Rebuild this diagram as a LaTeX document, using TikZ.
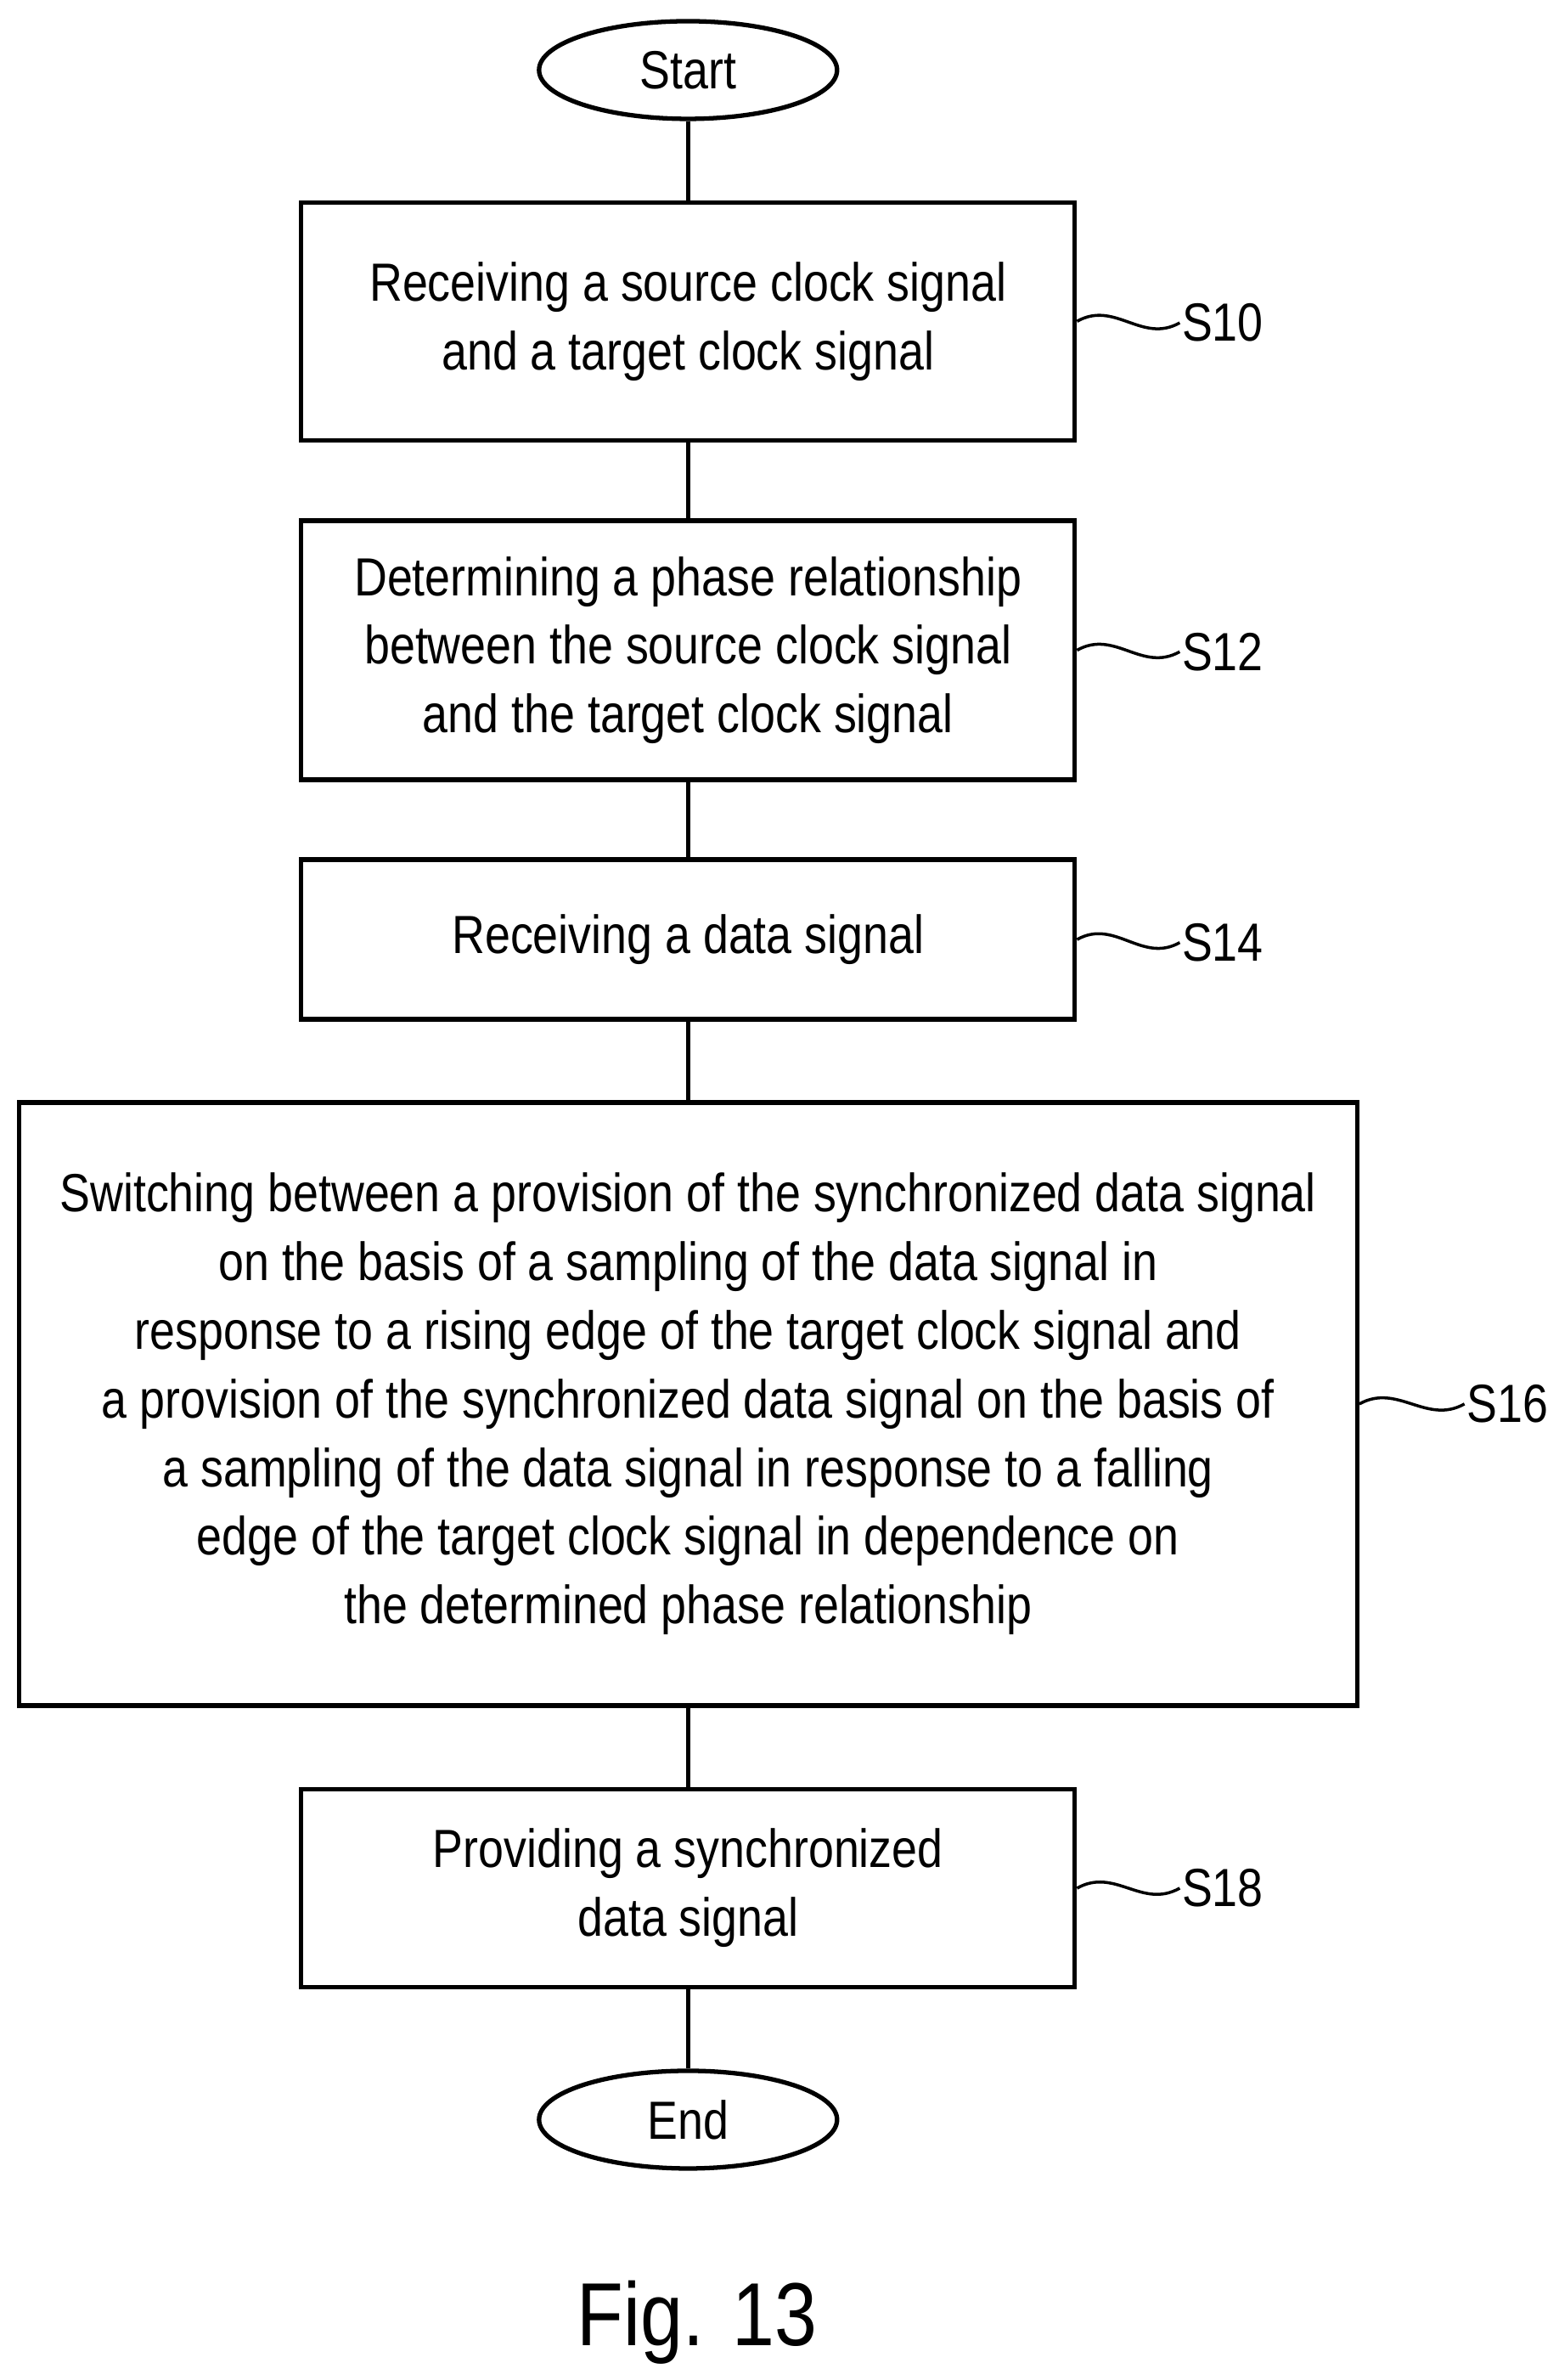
\documentclass[tikz,border=0pt]{standalone}
\usepackage{fontspec}
\setmainfont{Liberation Sans}[FakeStretch=0.85]
\usetikzlibrary{shapes.geometric,positioning}
\begin{document}
\begin{tikzpicture}[x=0.01793cm,y=-0.01793cm,line width=1.5pt,
    font=\fontsize{18}{23}\selectfont,
    stepbox/.style={draw,rectangle,align=center,minimum width=9.11cm,inner sep=0pt},
    term/.style={draw,ellipse,minimum width=3.51cm,minimum height=1.15cm,inner sep=0pt},
    lbl/.style={anchor=west,inner sep=0pt},
    wave/.style={line width=1pt}]
  \useasboundingbox (0,0) rectangle (1024,1563);

  % terminals
  \node[term] (start) at (452,46) {Start};
  \node[term] (end) at (452,1392) {End};

  % steps
  \node[stepbox,minimum height=2.80cm] (s10) at (452,211)
    {Receiving a source clock signal\\and a target clock signal};
  \node[stepbox,minimum height=3.05cm] (s12) at (452,427)
    {Determining a phase relationship\\between the source clock signal\\and the target clock signal};
  \node[stepbox,minimum height=1.88cm] (s14) at (452,617) {Receiving a data signal};
  \node[stepbox,minimum width=15.76cm,minimum height=7.10cm] (s16) at (452,922)
    {Switching between a provision of the synchronized data signal\\
     on the basis of a sampling of the data signal in\\
     response to a rising edge of the target clock signal and\\
     a provision of the synchronized data signal on the basis of\\
     a sampling of the data signal in response to a falling\\
     edge of the target clock signal in dependence on\\
     the determined phase relationship};
  \node[stepbox,minimum height=2.33cm] (s18) at (452,1240)
    {Providing a synchronized\\data signal};

  % reference labels
  \node[lbl] (l10) at (775,212) {S10};
  \node[lbl] (l12) at (775,428) {S12};
  \node[lbl] (l14) at (775,619) {S14};
  \node[lbl] (l16) at (962,922) {S16};
  \node[lbl] (l18) at (775,1240) {S18};
  \foreach \s in {10,12,14,16,18}
    \draw[wave] (s\s.east) .. controls +(25,-14) and +(-25,14) .. (l\s.west);

  % flow
  \draw (start) -- (s10);
  \draw (s10) -- (s12);
  \draw (s12) -- (s14);
  \draw (s14) -- (s16);
  \draw (s16) -- (s18);
  \draw (s18) -- (end);

  \node[font=\fontsize{30}{36}\selectfont] (fig) at (458,1525) {Fig. 13};
\end{tikzpicture}
\end{document}
